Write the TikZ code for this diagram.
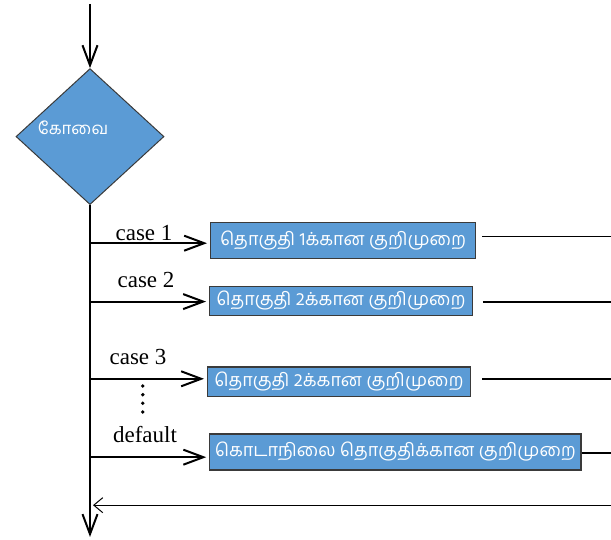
\documentclass[tikz,border=0pt]{standalone}
\usepackage{fontspec}
\setmainfont{Liberation Serif}
\newfontfamily\tamilfont[Script=Tamil]{Hind Madurai}
\usetikzlibrary{positioning, arrows.meta, shapes.geometric}
\definecolor{codeBlue}{HTML}{5B9BD5}
\definecolor{edgeGray}{HTML}{3A3A3A}
\tikzset{
  every node/.style={font=\fontsize{11.5}{13}\selectfont},
  arr/.style={-{Straight Barb[length=10pt,width=7.5pt]}, line width=1pt},
  arrthin/.style={-{Straight Barb[length=4.5pt,width=7.5pt]}, line width=0.5pt},
  flow/.style={line width=1pt},
  decision/.style={diamond, draw=edgeGray, fill=codeBlue, line width=0.5pt,
                   minimum width=74pt, minimum height=68pt, inner sep=0pt},
  codebox/.style={draw=edgeGray, fill=codeBlue, line width=0.6pt, text=white,
                  inner xsep=2.5pt, inner ysep=2pt, anchor=west,
                  font=\tamilfont\fontsize{9}{11}\selectfont},
  caselbl/.style={font=\fontsize{11.5}{13}\selectfont},
  dot/.style={fill=black, circle, inner sep=0pt, minimum size=1.9pt},
}

\begin{document}
\begin{tikzpicture}[x=1pt, y=1pt]
  \useasboundingbox (0,0) rectangle (305.5,270);
  % --- switch expression ---
  \coordinate (entry) at (45,268);
  \node[decision] (expr) at (45,201.7) {};
  \node[text=white, font=\tamilfont\fontsize{8.4}{10}\selectfont] (exprLbl) at (36.5,206) {கோவை};
  \draw[arr] (entry) -- (expr.north);
  % --- spine down to the exit ---
  \coordinate (exit) at (45,1.5);
  \draw[arr] (expr.south) -- (exit);
  % --- branches ---
  \coordinate (br1) at (45,148.4);
  \coordinate (br2) at (45,119.2);
  \coordinate (br3) at (45,80.6);
  \coordinate (brD) at (45,41.4);
  \node[codebox, minimum height=17.8pt, minimum width=132.5pt] (code1) at (105,149.7) {தொகுதி 1க்கான குறிமுறை};
  \node[codebox, minimum height=14.8pt, minimum width=131.3pt] (code2) at (104.5,119.5) {தொகுதி 2க்கான குறிமுறை};
  \node[codebox, minimum height=14.6pt, minimum width=131.3pt] (code3) at (103.5,79.2) {தொகுதி 2க்கான குறிமுறை};
  \node[codebox, minimum height=18pt, minimum width=185pt] (codeD) at (104.6,44) {கொடாநிலை தொகுதிக்கான குறிமுறை};
  \draw[arr, shorten >=1.5pt] (br1) -- (br1 -| code1.west);
  \draw[arr, shorten >=1.5pt] (br2) -- (br2 -| code2.west);
  \draw[arr, shorten >=1.5pt] (br3) -- (br3 -| code3.west);
  \draw[arr, shorten >=1.5pt] (brD) -- (brD -| codeD.west);
  \node[caselbl] (lbl1) at (72,153.5) {case 1};
  \node[caselbl] (lbl2) at (73,130) {case 2};
  \node[caselbl] (lbl3) at (69,91.5) {case 3};
  \node[caselbl] (lblD) at (72.5,52.5) {default};
  % more cases
  \foreach \y in {77,72.65,68.35,64}
    \node[dot] at (71.4,\y) {};
  % --- ways out to the right, and back ---
  \coordinate (rEdge) at (305.5,0);
  \coordinate (out1) at ([xshift=3pt,yshift=1.9pt]code1.east);
  \coordinate (out2) at ([xshift=5pt,yshift=-0.5pt]code2.east);
  \coordinate (out3) at ([xshift=5.7pt,yshift=1.3pt]code3.east);
  \coordinate (outD) at ([yshift=-0.5pt]codeD.east);
  \draw[line width=0.5pt] (out1) -- (out1 -| rEdge);
  \draw[flow] (out2) -- (out2 -| rEdge);
  \draw[flow] (out3) -- (out3 -| rEdge);
  \draw[flow] (outD) -- (outD -| rEdge);
  \coordinate (back) at (305.5,17.4);
  \draw[arrthin] (back) -- ([xshift=1.5pt]back -| exit);
\end{tikzpicture}
\end{document}
